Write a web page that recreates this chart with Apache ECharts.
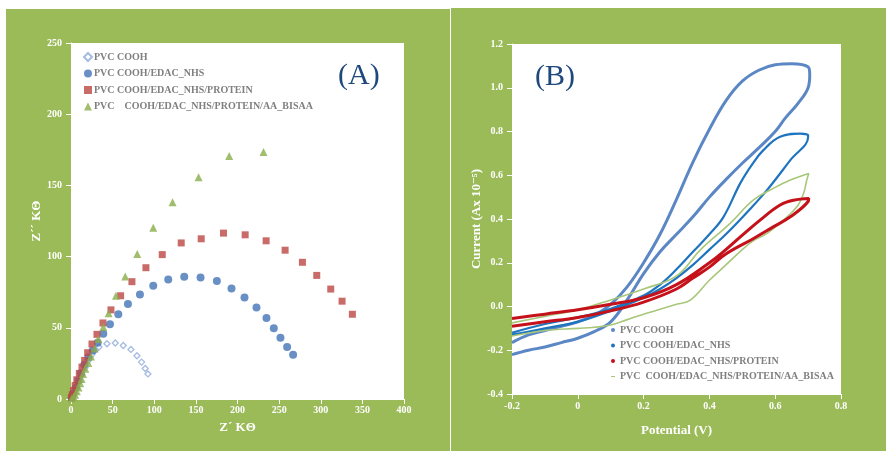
<!DOCTYPE html>
<html><head><meta charset="utf-8">
<script src="https://cdn.jsdelivr.net/npm/echarts@6/dist/echarts.min.js"></script>
<style>html,body{margin:0;padding:0;background:#fff}#c{width:888px;height:451px}</style>
</head><body><div id="c"></div>
<script>
// ---------- Panel A : Nyquist data (Z' KΘ, Z'' KΘ) ----------
const aNames = ['PVC COOH','PVC COOH/EDAC_NHS','PVC COOH/EDAC_NHS/PROTEIN','PVC    COOH/EDAC_NHS/PROTEIN/AA_BISAA'];
const aCooh = [[1,1],[3,4],[6,8],[9,12],[13,17],[17,22],[21,27],[25,31],[29,34],[33.6,36.5],[43.2,38.8],[53.2,39.3],[62.8,37.6],[72,34.8],[79.2,30.4],[84.8,25.9],[89.2,21.4],[92.4,17.6]];
const aEdac = [[1,1],[3,4],[6,8],[9,13],[12,18],[16,24],[20.8,29.4],[26,34.1],[32,39.5],[38.8,45.9],[46.8,52.5],[56.8,59.5],[68.4,66.8],[82.8,73.4],[98.8,79.5],[116.8,84],[136,85.9],[155.6,85.4],[175.2,82.8],[192.8,77.6],[208.4,71.3],[222.8,64.2],[234.8,56.9],[243.6,49.6],[251.6,43.1],[259.6,36.5],[266.8,31.1]];
const aProtein = [[0.5,1],[1.5,3],[3,6],[5,9.5],[7,13.5],[10,18],[13.2,22.4],[16.4,27.1],[20,32.5],[25.2,38.6],[31.2,45.4],[38.4,53.4],[48,62.6],[59.6,72.5],[73.2,82.4],[90,92.2],[109.6,101.4],[132.4,109.6],[156.4,112.5],[183.2,116.5],[209.2,115.3],[234.4,111.1],[257.2,104.5],[278,96],[295.2,86.8],[312,77.2],[325.6,68.7],[338,59.5]];
const aBisaa = [[1,0.5],[3,1.5],[5,3],[7,5.5],[9,8],[11,11],[12.8,14],[14.4,17.6],[17.2,21.2],[20.8,25.2],[24,29.9],[28.4,35.5],[32.8,42.1],[38.8,50.6],[45.2,60.2],[54,72.5],[65.2,86.1],[79.6,101.9],[98.8,120.2],[122,138.1],[153.2,155.8],[190,170.6],[231.2,173.4]];
const aXTicks = [0,50,100,150,200,250,300,350,400];
const aYTicks = [0,50,100,150,200,250];

// ---------- Panel B : cyclic voltammograms (Potential V, Current A x10^-5) ----------
const bNames = ['PVC COOH','PVC COOH/EDAC_NHS','PVC COOH/EDAC_NHS/PROTEIN','PVC  COOH/EDAC_NHS/PROTEIN/AA_BISAA'];
const bCooh = [[-0.2,-0.165],[-0.15,-0.13],[-0.1,-0.11],[-0.05,-0.09],[0,-0.07],[0.05,-0.04],[0.1,0.01],[0.15,0.09],[0.2,0.2],[0.25,0.33],[0.3,0.49],[0.35,0.66],[0.4,0.81],[0.45,0.94],[0.5,1.03],[0.55,1.08],[0.6,1.105],[0.65,1.11],[0.7,1.095],[0.705,1.06],[0.7,1.0],[0.67,0.93],[0.63,0.86],[0.6,0.8],[0.55,0.725],[0.5,0.655],[0.45,0.58],[0.4,0.5],[0.35,0.41],[0.3,0.33],[0.25,0.25],[0.2,0.15],[0.15,0.03],[0.1,-0.07],[0.05,-0.115],[0,-0.145],[-0.05,-0.165],[-0.1,-0.185],[-0.15,-0.2],[-0.2,-0.22]];
const bEdac = [[-0.2,-0.12],[-0.1,-0.08],[0,-0.05],[0.1,-0.01],[0.2,0.05],[0.25,0.1],[0.3,0.17],[0.35,0.25],[0.4,0.33],[0.443,0.41],[0.494,0.564],[0.53,0.65],[0.564,0.715],[0.615,0.776],[0.676,0.79],[0.7,0.783],[0.7,0.775],[0.646,0.669],[0.575,0.532],[0.514,0.43],[0.45,0.33],[0.4,0.26],[0.35,0.19],[0.3,0.13],[0.25,0.08],[0.2,0.04],[0.1,-0.02],[0,-0.07],[-0.1,-0.1],[-0.2,-0.13]];
const bProtein = [[-0.2,-0.055],[-0.1,-0.035],[0,-0.015],[0.1,0.01],[0.2,0.04],[0.3,0.1],[0.4,0.2],[0.45,0.26],[0.494,0.318],[0.554,0.395],[0.615,0.464],[0.656,0.486],[0.702,0.494],[0.7,0.48],[0.646,0.41],[0.594,0.364],[0.533,0.31],[0.45,0.24],[0.4,0.18],[0.35,0.13],[0.3,0.08],[0.2,0.02],[0.1,-0.02],[0,-0.05],[-0.1,-0.07],[-0.2,-0.09]];
const bBisaa = [[-0.2,-0.075],[-0.1,-0.045],[0,-0.015],[0.1,0.03],[0.2,0.08],[0.3,0.14],[0.372,0.258],[0.463,0.38],[0.533,0.486],[0.594,0.54],[0.646,0.578],[0.702,0.608],[0.696,0.578],[0.686,0.516],[0.666,0.456],[0.625,0.395],[0.575,0.334],[0.533,0.3],[0.5,0.26],[0.443,0.18],[0.4,0.12],[0.342,0.029],[0.3,0.01],[0.24,-0.017],[0.2,-0.035],[0.15,-0.06],[0.1,-0.085],[0.05,-0.095],[0,-0.1],[-0.1,-0.11],[-0.2,-0.135]];
const bXTicks = [-0.2,0,0.2,0.4,0.6,0.8];
const bYTicks = [-0.4,-0.2,0,0.2,0.4,0.6,0.8,1.0,1.2];

const SERIF = '"Liberation Serif","DejaVu Serif",serif';
const GREEN = '#9bbb59';
const tickLbl = {color:'#fff', fontFamily:SERIF, fontWeight:'bold', fontSize:10};
const nameSt = {color:'#fff', fontFamily:SERIF, fontWeight:'bold', fontSize:13};
const legTxt = {color:'#7f7f7f', fontFamily:SERIF, fontWeight:'bold', fontSize:10};
const bKey = n => 'B|' + n;   // internal series keys for panel B (legend shows the plain name)

const chart = echarts.init(document.getElementById('c'), null, {renderer:'canvas'});
chart.setOption({
  animation:false,
  backgroundColor:'#fff',
  graphic:[
    {type:'rect', shape:{x:6,y:9,width:444,height:442}, style:{fill:GREEN}, z:-10},
    {type:'rect', shape:{x:451,y:8,width:435,height:443}, style:{fill:GREEN}, z:-10},
    {type:'text', left:338, top:61, style:{text:'(A)', font:'30px '+SERIF, fill:'#1f497d'}, z:10},
    {type:'text', left:535, top:62, style:{text:'(B)', font:'30px '+SERIF, fill:'#1f497d'}, z:10}
  ],
  grid:[
    {left:71, top:43, width:333, height:356, show:true, backgroundColor:'#fff', borderWidth:0},
    {left:512, top:44, width:329, height:350, show:true, backgroundColor:'#fff', borderWidth:0}
  ],
  legend:[
    {data:aNames, orient:'vertical', left:83, top:52, itemGap:6.5, itemWidth:8, itemHeight:8,
     textStyle:Object.assign({padding:[0,0,0,-3]}, legTxt), padding:0, selectedMode:false},
    {data:bNames.map((n,i)=>({name:bKey(n), icon: i===3 ? 'path://M0,3L8,3L8,5L0,5Z' : 'circle'})),
     formatter:n=>n.slice(2), orient:'vertical', left:611, top:325, itemGap:5.5, itemWidth:4, itemHeight:4,
     textStyle:legTxt, padding:0, selectedMode:false}
  ],
  xAxis:[
    {gridIndex:0, type:'value', min:0, max:400, interval:50, name:'Z´ KΘ', nameLocation:'middle', nameGap:22, nameTextStyle:nameSt,
     axisLine:{show:true, onZero:false, lineStyle:{color:'#fff'}}, axisTick:{show:true, lineStyle:{color:'#fff'}}, splitLine:{show:false},
     axisLabel:Object.assign({margin:6}, tickLbl)},
    {gridIndex:1, type:'value', min:-0.2, max:0.8, interval:0.2, name:'Potential (V)', nameLocation:'middle', nameGap:30, nameTextStyle:nameSt,
     axisLine:{show:true, onZero:false, lineStyle:{color:'#fff'}}, axisTick:{show:true, lineStyle:{color:'#fff'}}, splitLine:{show:false},
     axisLabel:Object.assign({margin:7, formatter:v=>(Math.abs(v)<1e-9?'0':(+v.toFixed(1)).toString())}, tickLbl)}
  ],
  yAxis:[
    {gridIndex:0, type:'value', min:0, max:250, interval:50, name:'Z´´ KΘ', nameLocation:'middle', nameGap:22, nameRotate:90, nameTextStyle:nameSt,
     axisLine:{show:true, onZero:false, lineStyle:{color:'#fff'}}, axisTick:{show:true, lineStyle:{color:'#fff'}}, splitLine:{show:false},
     axisLabel:Object.assign({margin:9}, tickLbl)},
    {gridIndex:1, type:'value', min:-0.4, max:1.2, interval:0.2, name:'Current (Ax 10⁻⁵)', nameLocation:'middle', nameGap:21, nameRotate:90, nameTextStyle:nameSt,
     axisLine:{show:true, onZero:false, lineStyle:{color:'#fff'}}, axisTick:{show:true, lineStyle:{color:'#fff'}}, splitLine:{show:false},
     axisLabel:Object.assign({margin:9, formatter:v=>v.toFixed(1)}, tickLbl)}
  ],
  series:[
    {name:aNames[0], type:'scatter', xAxisIndex:0, yAxisIndex:0, data:aCooh, symbol:'diamond', symbolSize:6,
     itemStyle:{color:'#fff', borderColor:'#8eaadb', borderWidth:1.3}},
    {name:aNames[1], type:'scatter', xAxisIndex:0, yAxisIndex:0, data:aEdac, symbol:'circle', symbolSize:8,
     itemStyle:{color:'#4374b6'}},
    {name:aNames[2], type:'scatter', xAxisIndex:0, yAxisIndex:0, data:aProtein, symbol:'rect', symbolSize:7,
     itemStyle:{color:'#bb4744'}},
    {name:aNames[3], type:'scatter', xAxisIndex:0, yAxisIndex:0, data:aBisaa, symbol:'triangle', symbolSize:8,
     itemStyle:{color:'#8aad4a'}},
    {name:bKey(bNames[0]), type:'line', xAxisIndex:1, yAxisIndex:1, data:bCooh, showSymbol:false, smooth:0.4,
     lineStyle:{color:'#5b87c5', width:3}, itemStyle:{color:'#5b87c5'}},
    {name:bKey(bNames[1]), type:'line', xAxisIndex:1, yAxisIndex:1, data:bEdac, showSymbol:false, smooth:0.4,
     lineStyle:{color:'#1f74c0', width:2.2}, itemStyle:{color:'#1f74c0'}},
    {name:bKey(bNames[3]), type:'line', xAxisIndex:1, yAxisIndex:1, data:bBisaa, showSymbol:false, smooth:0.4,
     lineStyle:{color:'#a9c77a', width:1.6}, itemStyle:{color:'#a9c77a'}},
    {name:bKey(bNames[2]), type:'line', xAxisIndex:1, yAxisIndex:1, data:bProtein, showSymbol:false, smooth:0.4,
     lineStyle:{color:'#c4111a', width:3}, itemStyle:{color:'#c4111a'}}
  ]
});
</script></body></html>
